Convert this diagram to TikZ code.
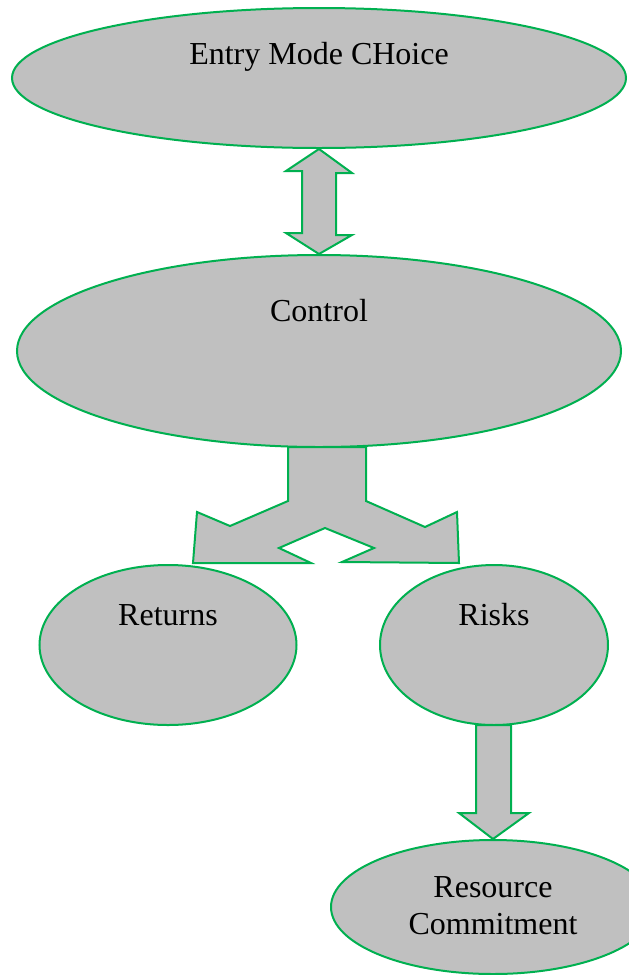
\documentclass[tikz,border=0pt]{standalone}
\usepackage{fontspec}
\setmainfont{Liberation Serif}
\usetikzlibrary{shapes.geometric}
\definecolor{ovalgreen}{HTML}{00B050}
\definecolor{ovalgray}{HTML}{C0C0C0}

\begin{document}
\begin{tikzpicture}[x=1pt,y=-1pt,
  oval/.style={ellipse,draw=ovalgreen,fill=ovalgray,line width=2pt,inner sep=0pt},
  blockarrow/.style={draw=ovalgreen,fill=ovalgray,line width=2pt,line join=miter},
  every node/.style={font=\fontsize{32}{37}\selectfont}]
\useasboundingbox (0,0) rectangle (629,975);

\node[oval,minimum width=614pt,minimum height=140pt] (entry) at (319,78) {};
\node[oval,minimum width=604pt,minimum height=192pt] (control) at (319,351) {};
\node[oval,minimum width=257pt,minimum height=160pt] (returns) at (168,645) {};
\node[oval,minimum width=228pt,minimum height=160pt] (risks) at (494,645) {};
\node[oval,minimum width=324pt,minimum height=134pt] (resource) at (493,907) {};

\node (entrytext) at (319,57) {Entry Mode CHoice};
\node (controltext) at (319,311) {Control};
\node (returnstext) at (168,615) {Returns};
\node (riskstext) at (494,615) {Risks};
\node[align=center] (resourcetext) at (493,906) {Resource\\Commitment};

\draw[blockarrow] (entry.south) -- ++(33,24) -- ++(-16,0) -- ++(0,62) -- ++(16,0)
  -- (control.north) -- ++(-33,-21) -- ++(16,0) -- ++(0,-62) -- ++(-16,0) -- cycle;

\draw[blockarrow] (288,447) -- (288,501) -- (230,526) -- (197,512) -- (193,563)
  -- (311,563) -- (279,548) -- (325,528) -- (374,548) -- (342,562) -- (459,563)
  -- (457,512) -- (425,527) -- (366,501) -- (366,447) -- cycle;

\draw[blockarrow] (476,725) -- (476,813) -- (459,813) -- (resource.north)
  -- (529,813) -- (511,813) -- (511,725) -- cycle;
\end{tikzpicture}
\end{document}
